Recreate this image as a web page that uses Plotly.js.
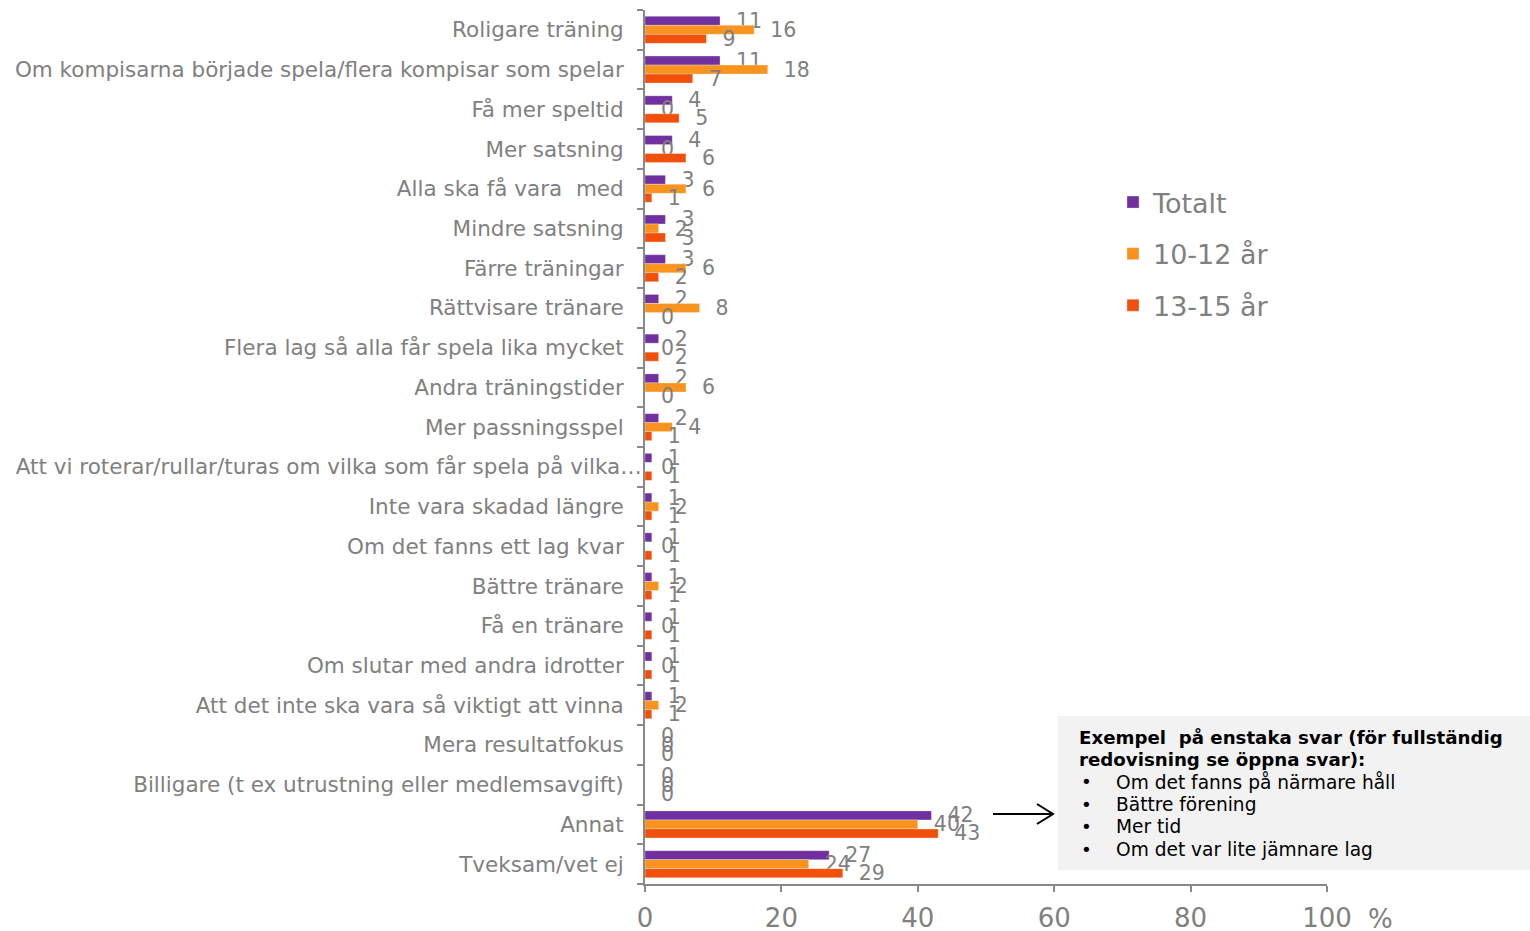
<!DOCTYPE html>
<html>
<head>
<meta charset="utf-8">
<script src="https://cdn.plot.ly/plotly-3.0.1.min.js"></script>
<style>html,body{margin:0;padding:0;background:#fff;}#chart{width:1530px;height:931px;}</style>
</head>
<body>
<div id="chart"></div>
<script>
const categories = [
  "Roligare träning",
  "Om kompisarna började spela/flera kompisar som spelar",
  "Få mer speltid",
  "Mer satsning",
  "Alla ska få vara\u00a0 med",
  "Mindre satsning",
  "Färre träningar",
  "Rättvisare tränare",
  "Flera lag så alla får spela lika mycket",
  "Andra träningstider",
  "Mer passningsspel",
  "Att vi roterar/rullar/turas om vilka som får spela på vilka…",
  "Inte vara skadad längre",
  "Om det fanns ett lag kvar",
  "Bättre tränare",
  "Få en tränare",
  "Om slutar med andra idrotter",
  "Att det inte ska vara så viktigt att vinna",
  "Mera resultatfokus",
  "Billigare (t ex utrustning eller medlemsavgift)",
  "Annat",
  "Tveksam/vet ej"
];
const totalt   = [11, 11, 4, 4, 3, 3, 3, 2, 2, 2, 2, 1, 1, 1, 1, 1, 1, 1, 0, 0, 42, 27];
const ar10_12  = [16, 18, 0, 0, 6, 2, 6, 8, 0, 6, 4, 0, 2, 0, 2, 0, 0, 2, 0, 0, 40, 24];
const ar13_15  = [ 9,  7, 5, 6, 1, 3, 2, 0, 2, 0, 1, 1, 1, 1, 1, 1, 1, 1, 0, 0, 43, 29];
const seriesNames = ["Totalt", "10-12 år", "13-15 år"];
const seriesColors = ["#7030a0", "#f7931e", "#f0500a"];
const xTicks = [0, 20, 40, 60, 80, 100];
const noteTitle = ["Exempel  på enstaka svar (för fullständig", "redovisning se öppna svar):"];
const noteItems = ["Om det fanns på närmare håll", "Bättre förening", "Mer tid", "Om det var lite jämnare lag"];

const FONT = "DejaVu Sans, Verdana, sans-serif";
const GRAY = "#808080";
const W = 1530, H = 931;
const L = 645, R = 1327, T = 10, B = 884;
const px = x => (x - L) / (R - L);
const py = y => 1 - (y - T) / (B - T);

// truncated label overflows past the others (as in the source); pad the rest on the right
const tickText = categories.map(c => c.endsWith("…") ? c : c + "\u00a0\u00a0\u2009");

const seriesData = [totalt, ar10_12, ar13_15];
const traces = seriesData.map((vals, i) => ({
  type: "bar",
  orientation: "h",
  name: seriesNames[i],
  legendgroup: "g" + i,
  x: vals,
  y: categories,
  marker: {color: seriesColors[i], line: {color: "rgba(255,255,255,0.6)", width: 0.5}},
  text: vals.map(String),
  texttemplate: "\u00a0\u00a0%{text}",
  textposition: "outside",
  constraintext: "none",
  cliponaxis: false,
  textfont: {family: FONT, size: 20.5, color: GRAY},
  hoverinfo: "x+y+name"
}));

const noteAnn = [];
const lineY0 = 737, lineStep = 22.4;
noteTitle.forEach((t, i) => noteAnn.push({
  xref: "paper", yref: "paper", x: px(1077), y: py(lineY0 + i * lineStep),
  xanchor: "left", yanchor: "middle", align: "left", showarrow: false,
  text: "<b>" + t.replace("  ", "\u00a0 ") + "</b>", font: {family: FONT, size: 18.2, color: "#000"}
}));
noteItems.forEach((t, i) => {
  const yy = py(lineY0 + (i + 2) * lineStep);
  noteAnn.push({
    xref: "paper", yref: "paper", x: px(1079), y: yy,
    xanchor: "left", yanchor: "middle", showarrow: false,
    text: "•", font: {family: FONT, size: 18.2, color: "#000"}
  });
  noteAnn.push({
    xref: "paper", yref: "paper", x: px(1114), y: yy,
    xanchor: "left", yanchor: "middle", align: "left", showarrow: false,
    text: t, font: {family: FONT, size: 18.6, color: "#000"}
  });
});

const layout = {
  width: W, height: H,
  margin: {l: L, r: W - R, t: T, b: H - B, pad: 0},
  paper_bgcolor: "#fff",
  plot_bgcolor: "#fff",
  font: {family: FONT, color: GRAY},
  barmode: "group",
  bargap: 0.32,
  bargroupgap: 0,
  showlegend: true,
  legend: {
    x: px(1113), y: py(178), xanchor: "left", yanchor: "top",
    font: {family: FONT, size: 27, color: GRAY},
    traceorder: "grouped",
    tracegroupgap: 13.5,
    bgcolor: "rgba(0,0,0,0)"
  },
  xaxis: {
    range: [0, 100],
    tickvals: xTicks,
    ticktext: xTicks.map(String),
    showgrid: false,
    zeroline: false,
    showline: true,
    linecolor: "#898989",
    linewidth: 2,
    ticks: "outside",
    ticklen: 6,
    tickwidth: 2,
    tickcolor: "#898989",
    ticklabelstandoff: 4,
    tickfont: {family: FONT, size: 26, color: GRAY},
    fixedrange: true
  },
  yaxis: {
    type: "category",
    autorange: "reversed",
    tickvals: categories,
    ticktext: tickText,
    showgrid: false,
    zeroline: false,
    showline: true,
    linecolor: "#898989",
    linewidth: 2,
    ticks: "outside",
    tickson: "boundaries",
    ticklen: 6,
    tickwidth: 2,
    tickcolor: "#898989",
    ticklabelstandoff: -3,
    tickfont: {family: FONT, size: 21.5, color: GRAY},
    fixedrange: true
  },
  shapes: [
    {type: "rect", xref: "paper", yref: "paper",
     x0: px(1058), x1: px(1530), y0: py(716), y1: py(870),
     fillcolor: "#f2f2f2", line: {width: 0}, layer: "below"},
    {type: "line", xref: "paper", yref: "paper",
     x0: px(993), x1: px(1053), y0: py(814), y1: py(814),
     line: {color: "#000", width: 2}},
    {type: "path", xref: "paper", yref: "paper",
     path: `M ${px(1037)} ${py(804)} L ${px(1053)} ${py(814)} L ${px(1037)} ${py(824)}`,
     line: {color: "#000", width: 2}}
  ],
  annotations: noteAnn.concat([
    {xref: "paper", yref: "paper", x: px(1380), y: py(919),
     xanchor: "center", yanchor: "middle", showarrow: false,
     text: "%", font: {family: FONT, size: 26, color: GRAY}}
  ])
};

Plotly.newPlot("chart", traces, layout, {staticPlot: true, displayModeBar: false});
</script>
</body>
</html>
